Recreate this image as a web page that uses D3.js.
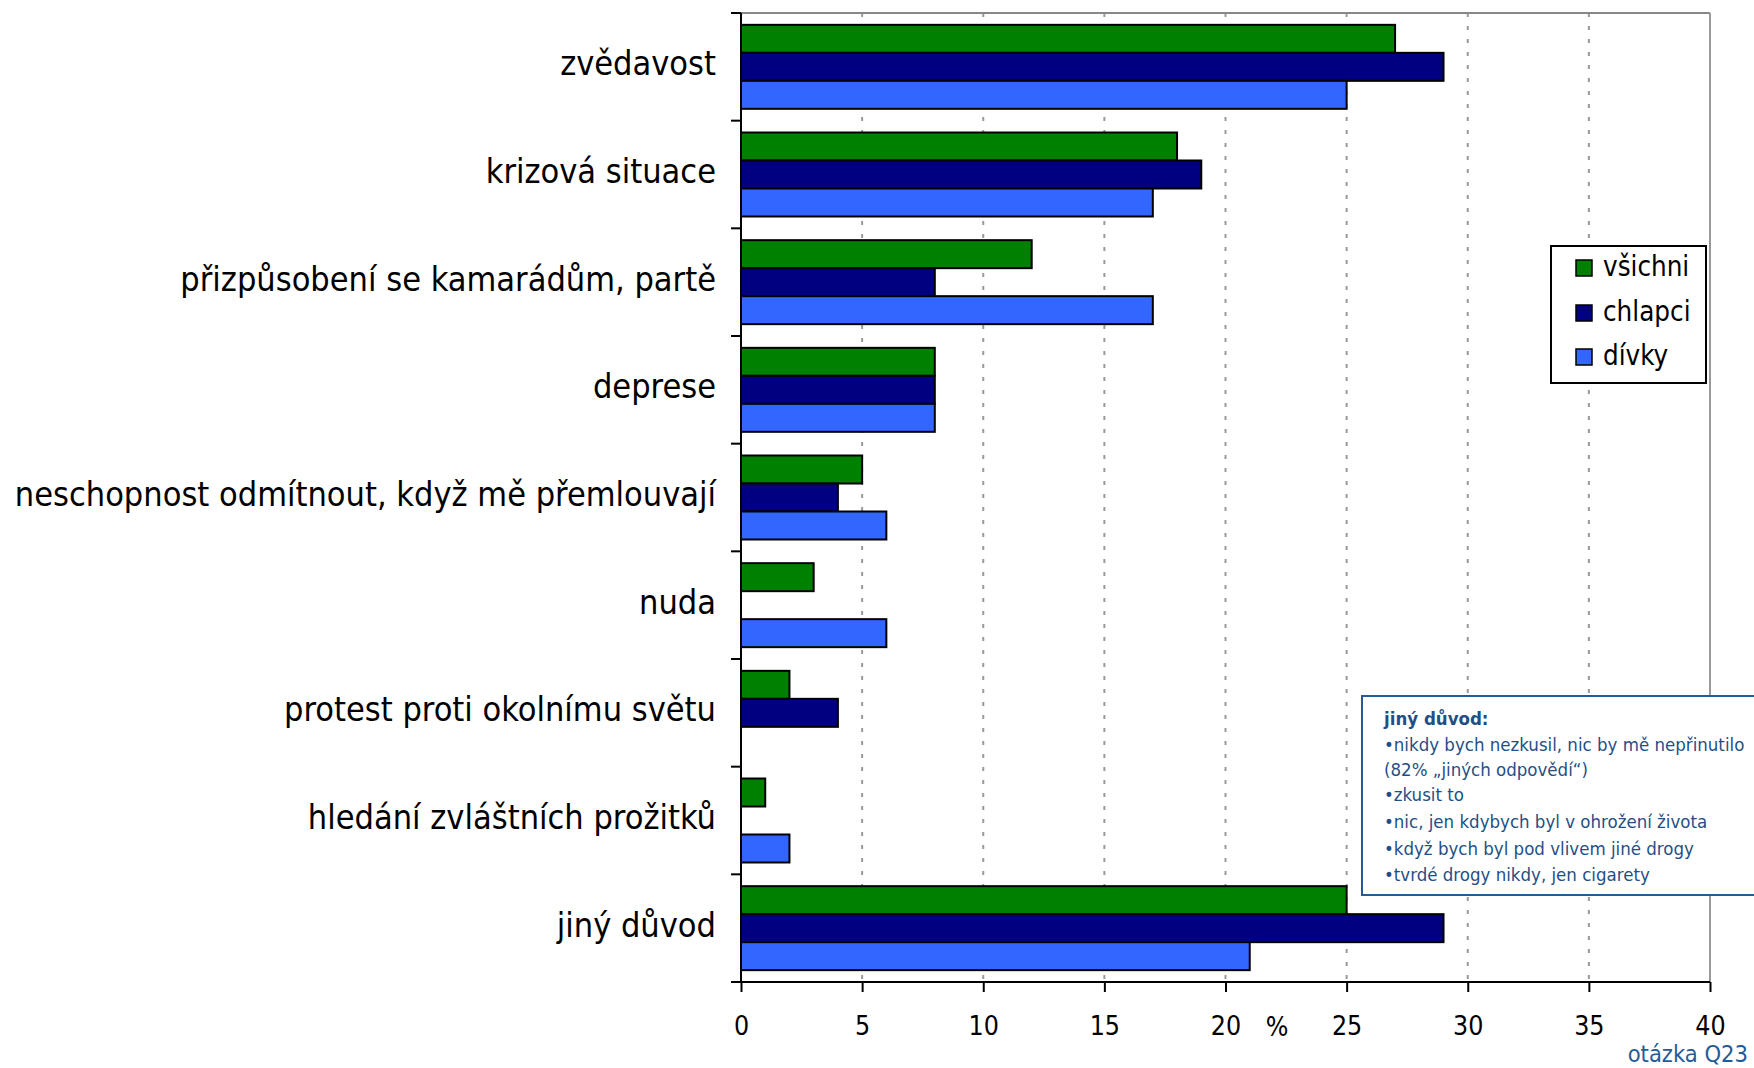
<!DOCTYPE html>
<html>
<head>
<meta charset="utf-8">
<script src="https://cdn.jsdelivr.net/npm/d3@7"></script>
<style>
  html, body { margin: 0; padding: 0; background: #fff; }
  svg { display: block; }
  text { font-family: "DejaVu Sans Condensed", "DejaVu Sans", "Liberation Sans Narrow", sans-serif; font-stretch: condensed; }
</style>
</head>
<body>
<svg id="chart" width="1754" height="1068"></svg>
<script>
// Reasons categories (top to bottom)
const categories = [
  "zvědavost",
  "krizová situace",
  "přizpůsobení se kamarádům, partě",
  "deprese",
  "neschopnost odmítnout, když mě přemlouvají",
  "nuda",
  "protest proti okolnímu světu",
  "hledání zvláštních prožitků",
  "jiný důvod"
];

// Series names and values (%), null = no answer
const seriesNames = ["všichni", "chlapci", "dívky"];
const vsichni = [27, 18, 12, 8, 5, 3, 2, 1, 25];
const chlapci = [29, 19, 8, 8, 4, null, 4, null, 29];
const divky   = [25, 17, 17, 8, 6, 6, null, 2, 21];
const seriesColors = ["#008000", "#000080", "#3366FF"];

const xTicks = [0, 5, 10, 15, 20, 25, 30, 35, 40];

const noteTitle = "jiný důvod:";
const noteLines = [
  "•nikdy bych nezkusil, nic by mě nepřinutilo",
  "(82% „jiných odpovědí“)",
  "•zkusit to",
  "•nic, jen kdybych byl v ohrožení života",
  "•když bych byl pod vlivem jiné drogy",
  "•tvrdé drogy nikdy, jen cigarety"
];

const svg = d3.select("#chart");
const plotL = 741, plotR = 1710, plotT = 13, plotB = 982;

const x = d3.scaleLinear().domain([0, 40]).range([plotL, plotR]);
const y = d3.scaleBand().domain(categories).range([plotT, plotB]).paddingInner(0).paddingOuter(0);
const ySub = d3.scaleBand().domain(seriesNames).range([0, y.bandwidth()]).paddingInner(0).paddingOuter(0.423);

const seriesData = [vsichni, chlapci, divky];

// dotted gridlines
svg.append("g").selectAll("line")
  .data(xTicks.filter(t => t > 0 && t < 40))
  .join("line")
  .attr("x1", d => x(d)).attr("x2", d => x(d))
  .attr("y1", plotT).attr("y2", plotB)
  .attr("stroke", "#999").attr("stroke-width", 2)
  .attr("stroke-dasharray", "4,9");

// top and right frame lines
svg.append("line").attr("x1", plotL).attr("x2", plotR).attr("y1", plotT).attr("y2", plotT)
  .attr("stroke", "#888").attr("stroke-width", 2);
svg.append("line").attr("x1", plotR).attr("x2", plotR).attr("y1", plotT).attr("y2", plotB)
  .attr("stroke", "#999").attr("stroke-width", 2);

// bars
const rows = categories.map((c, i) => ({ cat: c, vals: seriesData.map((s, k) => ({ name: seriesNames[k], v: s[i], color: seriesColors[k] })) }));
const groups = svg.append("g").selectAll("g")
  .data(rows).join("g")
  .attr("transform", d => `translate(0,${y(d.cat)})`);
groups.selectAll("rect")
  .data(d => d.vals.filter(v => v.v !== null))
  .join("rect")
  .attr("x", x(0))
  .attr("y", d => ySub(d.name))
  .attr("width", d => x(d.v) - x(0))
  .attr("height", ySub.bandwidth())
  .attr("fill", d => d.color)
  .attr("stroke", "#000").attr("stroke-width", 2);

// bottom axis
const xAxis = d3.axisBottom(x).tickValues(xTicks).tickSize(10).tickPadding(24).tickFormat(d3.format("d"));
const gx = svg.append("g").attr("transform", `translate(0,${plotB})`).call(xAxis);
gx.select(".domain").attr("stroke", "#000").attr("stroke-width", 2).attr("d", `M${plotL - 10},0H${plotR}`);
gx.selectAll(".tick line").attr("stroke", "#000").attr("stroke-width", 2);
gx.selectAll(".tick text").attr("font-size", 26.5).attr("fill", "#000")
  .attr("font-family", null);

// percent sign
svg.append("text").attr("x", 1277).attr("y", 1036).attr("text-anchor", "middle")
  .attr("font-size", 26.5).text("%");

// left axis with category boundary ticks
svg.append("line").attr("x1", plotL).attr("x2", plotL).attr("y1", plotT).attr("y2", plotB)
  .attr("stroke", "#000").attr("stroke-width", 2);
const bounds = categories.map(c => y(c)).concat([plotB]);
svg.append("g").selectAll("line").data(bounds).join("line")
  .attr("x1", plotL - 10).attr("x2", plotL).attr("y1", d => d).attr("y2", d => d)
  .attr("stroke", "#000").attr("stroke-width", 2);

// category labels
svg.append("g").selectAll("text").data(categories).join("text")
  .attr("x", 716).attr("y", d => y(d) + y.bandwidth() / 2 - 1)
  .attr("text-anchor", "end").attr("dominant-baseline", "middle")
  .attr("font-size", 34).attr("fill", "#000")
  .text(d => d);

// legend
const lg = svg.append("g");
lg.append("rect").attr("x", 1551).attr("y", 246).attr("width", 155).attr("height", 137)
  .attr("fill", "#fff").attr("stroke", "#000").attr("stroke-width", 2);
const lgY = [268, 313, 357];
seriesNames.forEach((n, k) => {
  lg.append("rect").attr("x", 1576).attr("y", lgY[k] - 8).attr("width", 16).attr("height", 16)
    .attr("fill", seriesColors[k]).attr("stroke", "#000").attr("stroke-width", 1.5);
  lg.append("text").attr("x", 1603).attr("y", lgY[k]).attr("dominant-baseline", "middle")
    .attr("font-size", 27.5).text(n);
});

// note box
const nb = svg.append("g");
nb.append("rect").attr("x", 1362).attr("y", 696).attr("width", 420).attr("height", 199)
  .attr("fill", "#fff").attr("stroke", "#1f5c99").attr("stroke-width", 2);
nb.append("text").attr("x", 1384).attr("y", 725).attr("font-size", 18.5).attr("font-weight", "bold")
  .attr("fill", "#1f4f86").text(noteTitle);
const noteY = [751, 776, 801, 828, 855, 881];
noteLines.forEach((t, i) => {
  nb.append("text").attr("x", 1384).attr("y", noteY[i]).attr("font-size", 18.5)
    .attr("fill", "#1f4f86").text(t);
});

// question label
svg.append("text").attr("x", 1748).attr("y", 1062).attr("text-anchor", "end")
  .attr("font-size", 23.5).attr("fill", "#1f5c99").text("otázka Q23");
</script>
</body>
</html>
